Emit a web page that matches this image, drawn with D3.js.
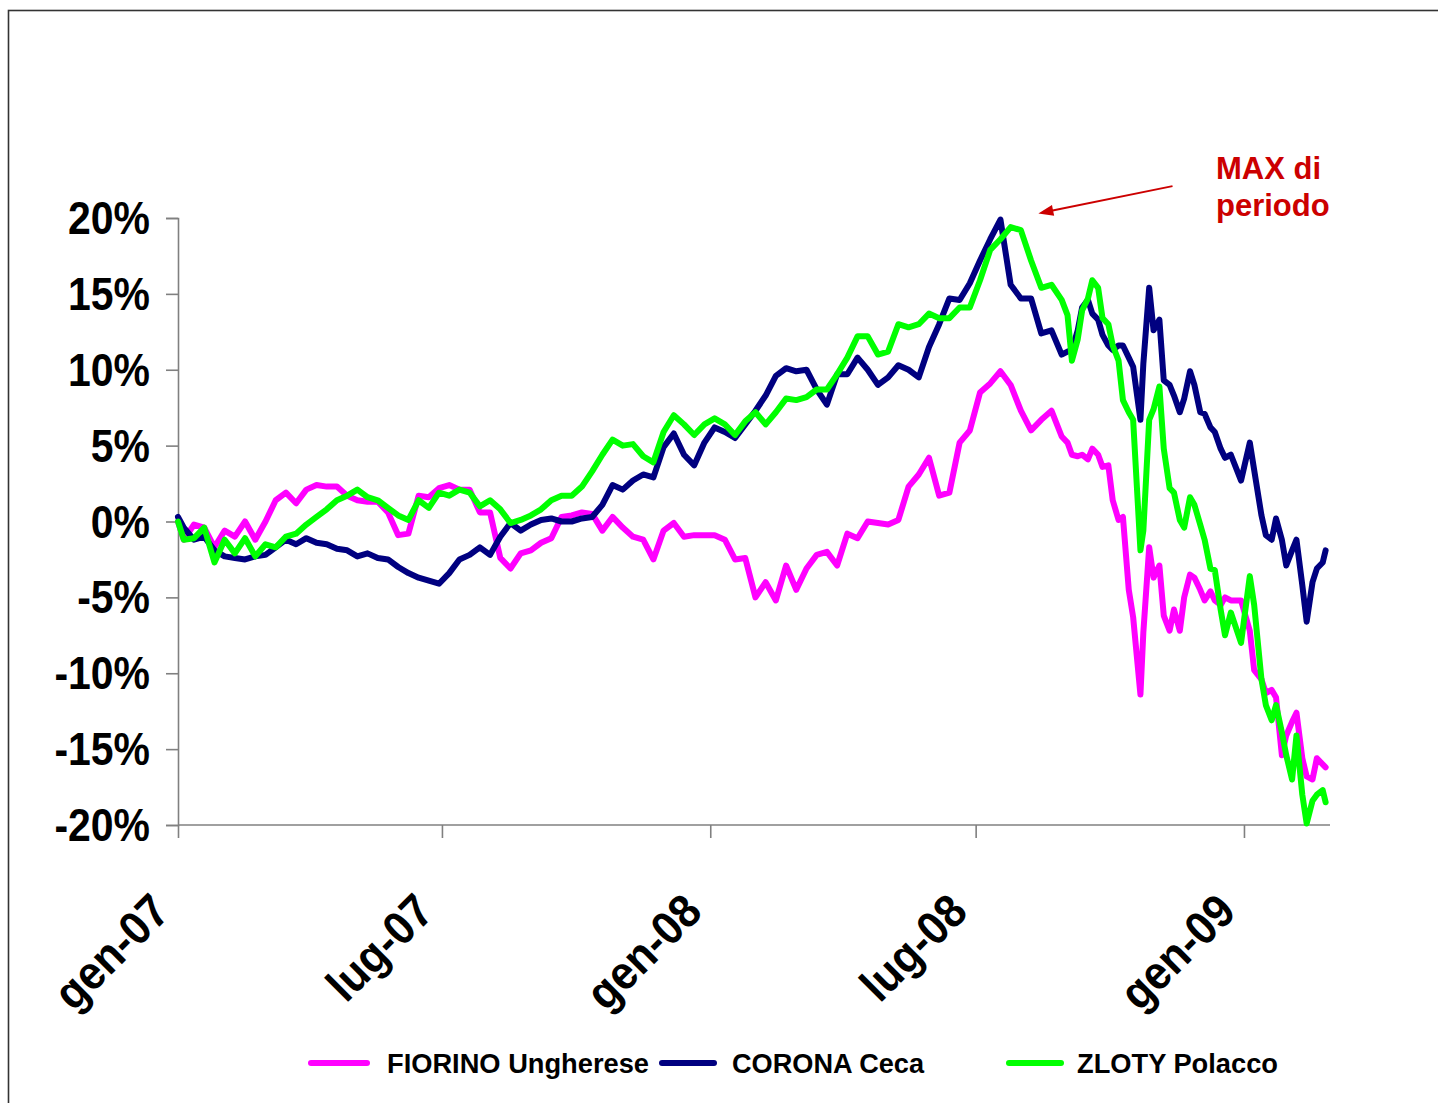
<!DOCTYPE html>
<html><head><meta charset="utf-8">
<script src="https://cdn.jsdelivr.net/npm/d3@7"></script>
<style>
body{margin:0;background:#fff}
svg{display:block}
text{font-family:"Liberation Sans",Arial,sans-serif;font-weight:bold}
</style>
</head><body>
<svg id="c" width="1438" height="1103"></svg>
<script>
const dates = ["2007-01-01","2007-01-05","2007-01-12","2007-01-19","2007-01-26","2007-02-02","2007-02-09","2007-02-16","2007-02-23","2007-03-02","2007-03-09","2007-03-16","2007-03-23","2007-03-30","2007-04-06","2007-04-13","2007-04-20","2007-04-27","2007-05-04","2007-05-11","2007-05-18","2007-05-25","2007-06-01","2007-06-08","2007-06-15","2007-06-22","2007-06-29","2007-07-06","2007-07-13","2007-07-20","2007-07-27","2007-08-03","2007-08-10","2007-08-17","2007-08-24","2007-08-31","2007-09-07","2007-09-14","2007-09-21","2007-09-28","2007-10-05","2007-10-12","2007-10-19","2007-10-26","2007-11-02","2007-11-09","2007-11-16","2007-11-23","2007-11-30","2007-12-07","2007-12-14","2007-12-21","2007-12-28","2008-01-04","2008-01-11","2008-01-18","2008-01-25","2008-02-01","2008-02-08","2008-02-15","2008-02-22","2008-02-29","2008-03-07","2008-03-14","2008-03-21","2008-03-28","2008-04-04","2008-04-11","2008-04-18","2008-04-25","2008-05-02","2008-05-09","2008-05-16","2008-05-23","2008-05-30","2008-06-06","2008-06-13","2008-06-20","2008-06-27","2008-07-04","2008-07-11","2008-07-18","2008-07-25","2008-08-01","2008-08-08","2008-08-15","2008-08-22","2008-08-29","2008-09-02","2008-09-05","2008-09-09","2008-09-12","2008-09-16","2008-09-19","2008-09-23","2008-09-26","2008-09-30","2008-10-03","2008-10-07","2008-10-10","2008-10-14","2008-10-17","2008-10-22","2008-10-24","2008-10-28","2008-10-31","2008-11-04","2008-11-07","2008-11-11","2008-11-14","2008-11-18","2008-11-21","2008-11-25","2008-11-28","2008-12-02","2008-12-05","2008-12-09","2008-12-12","2008-12-16","2008-12-19","2008-12-23","2008-12-30","2009-01-05","2009-01-08","2009-01-13","2009-01-16","2009-01-20","2009-01-23","2009-01-27","2009-01-30","2009-02-03","2009-02-06","2009-02-10","2009-02-13","2009-02-17","2009-02-20","2009-02-24","2009-02-26"];

const fiorino = [0,-1.2,-0.2,-0.4,-1.7,-0.6,-1.0,0.0,-1.2,0.0,1.4,1.9,1.2,2.1,2.4,2.3,2.3,1.7,1.4,1.3,1.3,0.6,-0.9,-0.8,1.7,1.6,2.2,2.4,2.1,2.1,0.6,0.6,-2.4,-3.1,-2.1,-1.9,-1.4,-1.1,0.3,0.4,0.6,0.5,-0.6,0.3,-0.4,-1.0,-1.2,-2.5,-0.6,-0.1,-1.0,-0.9,-0.9,-0.9,-1.2,-2.5,-2.4,-5.0,-4.0,-5.2,-2.9,-4.5,-3.1,-2.2,-2.0,-2.9,-0.8,-1.1,0.0,-0.1,-0.2,0.1,2.3,3.1,4.2,1.7,1.9,5.2,6.0,8.5,9.1,9.9,9.0,7.3,6.0,6.7,7.3,5.6,5.2,4.4,4.3,4.4,4.1,4.8,4.4,3.6,3.7,1.4,0.1,0.3,-4.5,-6.3,-11.4,-7.3,-1.7,-3.7,-2.9,-6.2,-7.2,-5.8,-7.2,-5.0,-3.5,-3.7,-4.5,-5.2,-4.6,-5.2,-5.5,-5.0,-5.2,-5.2,-7.2,-9.8,-10.4,-11.3,-11.1,-11.6,-15.4,-14.1,-13.2,-12.6,-15.6,-16.8,-17.0,-15.6,-16.0,-16.2];

const corona = [0.3,-0.4,-1.2,-1.0,-1.9,-2.3,-2.4,-2.5,-2.3,-2.2,-1.7,-1.2,-1.5,-1.1,-1.4,-1.5,-1.8,-1.9,-2.3,-2.1,-2.4,-2.5,-3.0,-3.4,-3.7,-3.9,-4.1,-3.4,-2.5,-2.2,-1.7,-2.2,-1.0,-0.1,-0.6,-0.2,0.1,0.2,0.0,0.0,0.2,0.3,1.1,2.4,2.1,2.7,3.1,2.9,4.9,5.8,4.4,3.7,5.2,6.2,5.9,5.5,6.4,7.3,8.3,9.6,10.1,9.9,10.0,8.7,7.7,9.7,9.7,10.8,10.0,9.0,9.5,10.3,10.0,9.5,11.5,13.0,14.7,14.6,15.7,17.2,18.6,19.9,15.6,14.7,14.7,12.4,12.6,11.0,11.2,11.3,12.6,14.1,14.6,13.7,13.3,12.3,11.6,11.3,11.6,11.6,10.8,10.2,6.7,10.4,15.4,12.6,13.3,9.3,9.0,8.3,7.2,8.1,9.9,9.0,7.2,7.1,6.2,5.9,4.8,4.2,4.4,2.7,5.2,3.4,0.4,-0.9,-1.2,0.2,-1.2,-2.9,-1.9,-1.2,-4.2,-6.6,-4.0,-3.1,-2.7,-1.9];

const zloty = [0,-1.2,-1.1,-0.4,-2.7,-1.2,-2.1,-1.1,-2.3,-1.5,-1.7,-1.0,-0.8,-0.2,0.3,0.8,1.4,1.7,2.1,1.6,1.4,0.9,0.4,0.1,1.4,0.9,1.9,1.7,2.1,1.9,1.0,1.4,0.8,-0.1,0.1,0.4,0.8,1.4,1.7,1.7,2.3,3.3,4.4,5.4,5.0,5.1,4.3,3.9,5.9,7.0,6.4,5.7,6.4,6.8,6.4,5.7,6.6,7.2,6.4,7.2,8.1,8.0,8.2,8.7,8.7,9.7,10.8,12.2,12.2,11.0,11.2,13.0,12.8,13.0,13.7,13.4,13.4,14.1,14.1,15.9,17.9,18.6,19.4,19.2,17.2,15.4,15.6,14.6,13.6,10.6,12.0,13.9,14.7,15.9,15.4,13.4,13.0,11.6,10.6,8.0,7.2,6.7,-1.9,-0.6,6.7,7.4,8.9,4.8,2.2,1.9,0.1,-0.4,1.6,1.1,-0.2,-1.2,-3.1,-3.2,-5.8,-7.5,-6.0,-8.0,-3.6,-5.5,-10.4,-12.1,-13.1,-12.1,-13.9,-15.4,-17.0,-14.1,-18.0,-19.9,-18.4,-18.0,-17.7,-18.5];

const seriesNames = ["FIORINO Ungherese", "CORONA Ceca", "ZLOTY Polacco"];
const seriesColors = ["#FF00FF", "#000080", "#00FF00"];
const yTicks = [20, 15, 10, 5, 0, -5, -10, -15, -20];
const xTickDates = ["2007-01-01", "2007-07-01", "2008-01-01", "2008-07-01", "2009-01-01"];
const xTickLabels = ["gen-07", "lug-07", "gen-08", "lug-08", "gen-09"];
const annotationLines = ["MAX di", "periodo"];

const parse = d3.timeParse("%Y-%m-%d");
const svg = d3.select("#c");

// outer frame (right/bottom edges run off the picture)
svg.append("rect").attr("x", 8.5).attr("y", 10.5).attr("width", 1440).attr("height", 1100)
  .attr("fill", "#fff").attr("stroke", "#333").attr("stroke-width", 1.6);

const x = d3.scaleTime().domain([parse("2007-01-01"), parse("2009-03-01")]).range([178, 1330]);
const y = d3.scaleLinear().domain([-20, 20]).range([825, 218]);

// Y axis
const yAxis = svg.append("g").attr("transform", "translate(178,0)")
  .call(d3.axisLeft(y).tickValues(yTicks).tickSize(12).tickFormat(""));
yAxis.selectAll("path,line").attr("stroke", "#808080").attr("stroke-width", 1.6);

const yLab = svg.append("g");
yTicks.forEach(v => {
  yLab.append("text").attr("x", 0).attr("y", 0)
    .attr("text-anchor", "end").attr("font-size", 46).attr("fill", "#000")
    .attr("transform", `translate(150,${y(v) + 16}) scale(0.89,1)`)
    .text(v + "%");
});

// X axis
const xAxis = svg.append("g").attr("transform", "translate(0,825)")
  .call(d3.axisBottom(x).tickValues(xTickDates.map(parse)).tickSize(13).tickFormat(""));
xAxis.select(".domain").attr("d", "M178,0H1330");
xAxis.selectAll("path,line").attr("stroke", "#808080").attr("stroke-width", 1.6);

xTickDates.forEach((d, i) => {
  const px = x(parse(d));
  svg.append("text").attr("text-anchor", "end").attr("font-size", 47).attr("fill", "#000")
    .attr("transform", `translate(${px - 6},${914}) rotate(-45) scale(0.92,1)`)
    .text(xTickLabels[i]);
});

// series
const series = [fiorino, corona, zloty];
const line = d3.line().x((d, i) => x(parse(dates[i]))).y(d => y(d)).curve(d3.curveLinear);
series.forEach((vals, k) => {
  svg.append("path").datum(vals).attr("d", line)
    .attr("fill", "none").attr("stroke", seriesColors[k]).attr("stroke-width", 6)
    .attr("stroke-linejoin", "round").attr("stroke-linecap", "round");
});

// annotation
const red = "#CC0000";
const tip = [x(parse("2008-08-13")), y(20.3)];
const tail = [x(parse("2008-11-13")), y(22.1)];
const ang = Math.atan2(tail[1] - tip[1], tail[0] - tip[0]);
svg.append("line").attr("x1", tail[0]).attr("y1", tail[1])
  .attr("x2", tip[0] + 12 * Math.cos(ang)).attr("y2", tip[1] + 12 * Math.sin(ang))
  .attr("stroke", red).attr("stroke-width", 2);
const hl = 15, hw = 5.5;
const bx = tip[0] + hl * Math.cos(ang), by = tip[1] + hl * Math.sin(ang);
const nx = -Math.sin(ang), ny = Math.cos(ang);
svg.append("polygon").attr("points",
  `${tip[0]},${tip[1]} ${bx + hw * nx},${by + hw * ny} ${bx - hw * nx},${by - hw * ny}`)
  .attr("fill", red);
annotationLines.forEach((t, i) => {
  svg.append("text").attr("x", 1216).attr("y", 179 + i * 37).attr("font-size", 31)
    .attr("fill", red).text(t);
});

// legend
const legX = [[311, 367], [662, 714], [1009, 1061]];
const legTextX = [387, 732, 1077];
const legW = [262, 192, 201];
seriesNames.forEach((n, k) => {
  svg.append("line").attr("x1", legX[k][0]).attr("x2", legX[k][1]).attr("y1", 1063).attr("y2", 1063)
    .attr("stroke", seriesColors[k]).attr("stroke-width", 6).attr("stroke-linecap", "round");
  svg.append("text").attr("x", legTextX[k]).attr("y", 1073).attr("font-size", 27)
    .attr("textLength", legW[k]).attr("lengthAdjust", "spacingAndGlyphs").attr("fill", "#000").text(n);
});
</script>
</body></html>
